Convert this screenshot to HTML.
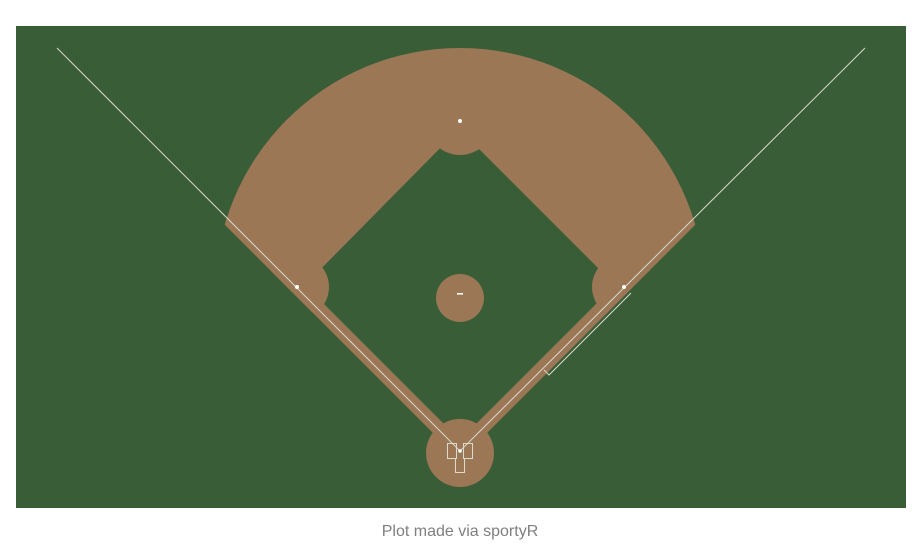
<!DOCTYPE html>
<html><head><meta charset="utf-8"><style>
body{margin:0;background:#fff;width:922px;height:548px;overflow:hidden;font-family:"Liberation Sans",sans-serif}
</style></head><body>
<svg width="922" height="548">
<defs><clipPath id="fan"><path d="M460,460 L200,200 L200,30 L720,30 L720,200 Z"/></clipPath></defs>
<rect x="16" y="26" width="890" height="482" fill="#395d37"/>
<g clip-path="url(#fan)">
<circle cx="460" cy="293" r="245" fill="#9b7756"/>
</g>
<polygon points="459,129 615,285 460,440 305,285" fill="#395d37"/>
<g clip-path="url(#fan)">
<circle cx="460" cy="121" r="34" fill="#9b7756"/>
<circle cx="624" cy="287" r="32" fill="#9b7756"/>
<circle cx="297" cy="287" r="32" fill="#9b7756"/>
</g>
<circle cx="460" cy="298" r="24" fill="#9b7756"/>
<circle cx="460" cy="453" r="34" fill="#9b7756"/>
<line x1="460" y1="451" x2="57" y2="48" stroke="#d9d9cc" stroke-width="1"/>
<line x1="460" y1="451" x2="865" y2="48" stroke="#d9d9cc" stroke-width="1"/>
<polyline points="544,370 549,375 631,293" fill="none" stroke="#d9d9cc" stroke-width="1"/>
<rect x="447.5" y="443.5" width="9" height="15" fill="none" stroke="#d9d9cc"/>
<rect x="463.5" y="443.5" width="9" height="15" fill="none" stroke="#d9d9cc"/>
<polyline points="455.5,458.5 455.5,472.5 464.5,472.5 464.5,458.5" fill="none" stroke="#d9d9cc"/>
<circle cx="460" cy="451" r="1.8" fill="#fff"/>
<circle cx="624" cy="287" r="2" fill="#fff"/>
<circle cx="460" cy="121" r="2" fill="#fff"/>
<circle cx="297" cy="287" r="2" fill="#fff"/>
<rect x="457" y="293" width="6" height="1.6" fill="#fff"/>
<text x="460" y="536" text-anchor="middle" font-size="16" fill="#7f7f7f">Plot made via sportyR</text>
</svg>
</body></html>
